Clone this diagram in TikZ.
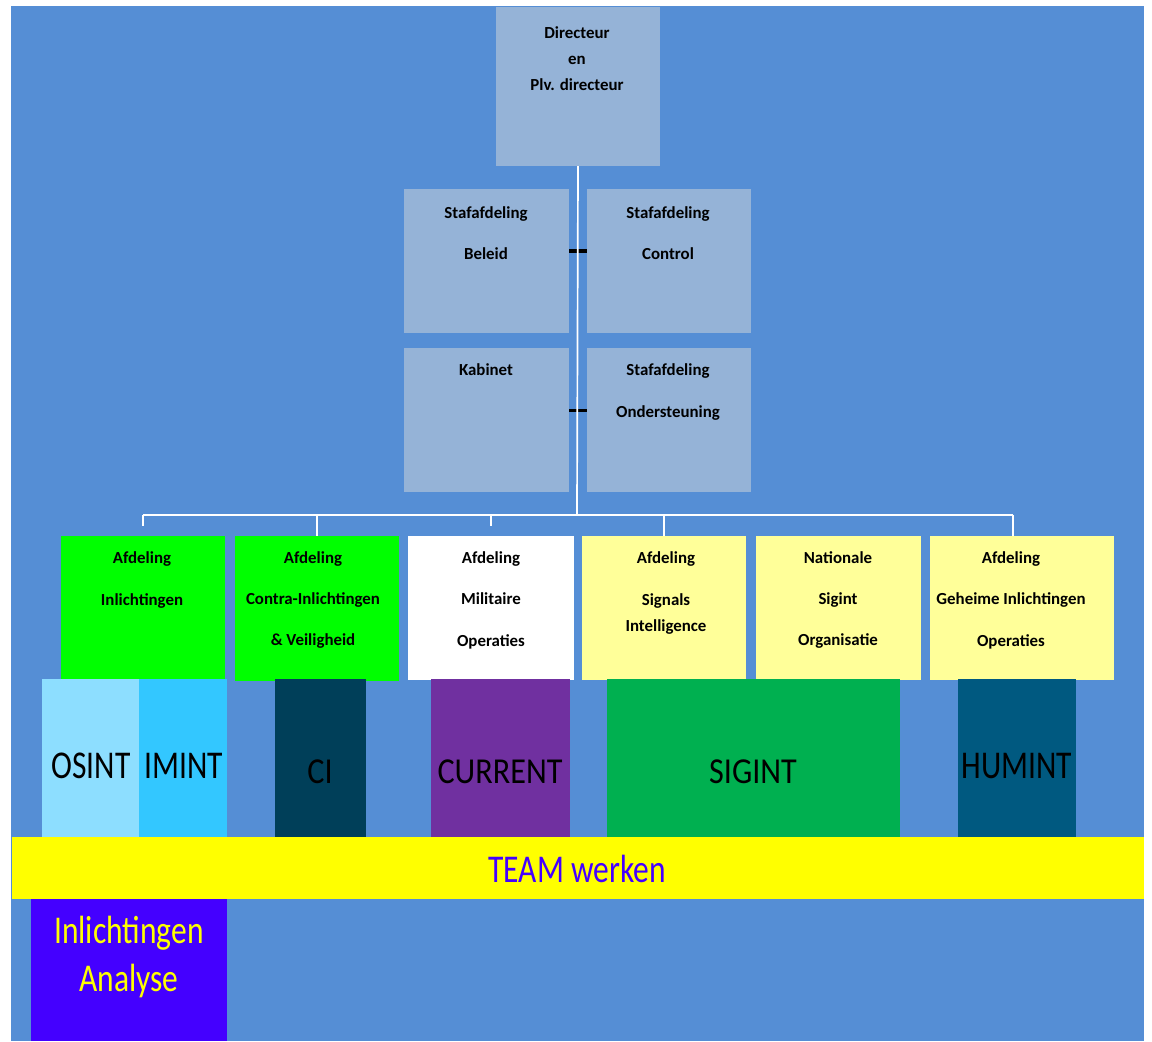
\documentclass[tikz,border=0pt]{standalone}
\usepackage{fontspec}
\setmainfont{Carlito}
\usetikzlibrary{fit}

\definecolor{cachter}{RGB}{85,142,213}
\definecolor{cstaf}{RGB}{149,179,215}
\definecolor{cgroen}{RGB}{0,255,0}
\definecolor{cgeel}{RGB}{255,255,153}
\definecolor{cosint}{RGB}{141,222,255}
\definecolor{cimint}{RGB}{51,199,255}
\definecolor{cci}{RGB}{0,63,89}
\definecolor{ccurrent}{RGB}{112,48,160}
\definecolor{csigint}{RGB}{0,176,80}
\definecolor{chumint}{RGB}{0,89,128}
\definecolor{cteam}{RGB}{255,255,0}
\definecolor{cpaars}{RGB}{68,0,255}

\begin{document}
\begin{tikzpicture}[x=0.025cm,y=-0.025cm]
    \newcommand{\smal}[1]{\scalebox{0.8}[1]{#1}}
    \newcommand{\smaller}[1]{\scalebox{0.88}[1]{#1}}
    \newcommand{\blok}[6]{\node[box,fill=#6,fit={(#2,#3) (#4,#5)}] (#1) {};}
    \tikzstyle{box}=[rectangle,inner sep=0,outer sep=0,draw=none]
    \tikzstyle{txt}=[align=center,inner sep=0,font=\fontsize{12}{18.5}\selectfont\bfseries]
    \tikzstyle{wide}=[txt,font=\fontsize{12}{29.5}\selectfont\bfseries]
    \tikzstyle{big}=[align=center,inner sep=0,font=\fontsize{28}{34.5}\selectfont]
    \tikzstyle{mid}=[big,font=\fontsize{26}{30}\selectfont]
    \tikzstyle{link}=[draw=white,line width=1.2pt]
    \tikzstyle{stub}=[draw=black,line width=2.4pt]

    \useasboundingbox (0,0) rectangle (1152,1041);
    \fill[cachter] (11,6) rectangle (1144,1041);

    % leiding en staf
    \blok{dir}{496}{7}{660}{166}{cstaf}
    \blok{beleid}{404}{189}{569}{333}{cstaf}
    \blok{control}{587}{189}{751}{333}{cstaf}
    \blok{kabinet}{404}{348}{569}{492}{cstaf}
    \blok{onder}{587}{348}{751}{492}{cstaf}

    % afdelingen
    \blok{inl}{61}{536}{225}{680}{cgroen}
    \blok{civ}{235}{536}{399}{681}{cgroen}
    \blok{mil}{408}{536}{574}{680}{white}
    \blok{sig}{582}{536}{746}{680}{cgeel}
    \blok{nso}{756}{536}{921}{680}{cgeel}
    \blok{gio}{930}{536}{1114}{680}{cgeel}

    % disciplines
    \blok{osint}{42}{679}{139}{837}{cosint}
    \blok{imint}{139}{679}{227}{837}{cimint}
    \blok{ci}{275}{679}{366}{837}{cci}
    \blok{current}{431}{679}{570}{837}{ccurrent}
    \blok{sigint}{607}{679}{900}{837}{csigint}
    \blok{humint}{958}{679}{1076}{837}{chumint}
    \blok{team}{12}{837}{1144}{899}{cteam}
    \blok{analyse}{31}{899}{227}{1041}{cpaars}

    \node[txt] (dir-t) at (577,59) {Directeur\\en\\Plv. directeur};
    \node[wide] (beleid-t) at (486,233) {Stafafdeling\\Beleid};
    \node[wide] (control-t) at (668,233) {Stafafdeling\\Control};
    \node[txt] (kabinet-t) at (486,370) {Kabinet};
    \node[wide] (onder-t) at (668,392) {Stafafdeling\\Ondersteuning};

    \node[wide] (inl-t) at (142,580) {Afdeling\\Inlichtingen};
    \node[wide] (civ-t) at (313,600) {Afdeling\\Contra-Inlichtingen\\\& Veiligheid};
    \node[wide] (mil-t) at (491,600) {Afdeling\\Militaire\\Operaties};
    \node[txt] (sig-t) at (666,593) {Afdeling\\[11pt]Signals\\Intelligence};
    \node[wide] (nso-t) at (838,600) {Nationale\\Sigint\\Organisatie};
    \node[wide] (gio-t) at (1011,600) {Afdeling\\Geheime Inlichtingen\\Operaties};

    \node[big] (osint-t) at (91,766) {\smal{OSINT}};
    \node[big] (imint-t) at (184,766) {\smal{IMINT}};
    \node[mid] (ci-t) at (320,772) {\smaller{CI}};
    \node[mid] (current-t) at (500,772) {\smaller{CURRENT}};
    \node[mid] (sigint-t) at (753,772) {\smaller{SIGINT}};
    \node[big] (humint-t) at (1017,766) {\smal{HUMINT}};
    \node[big,text=cpaars] (team-t) at (577,869) {\smal{TEAM werken}};
    \node[big,text=cteam] (analyse-t) at (129,957) {\smal{Inlichtingen}\\\smal{Analyse}};

    % lijnen
    \coordinate (bus) at (577,515);
    \coordinate (bus-r) at (1013,515);
    \draw[stub] ([yshift=0.25cm]beleid.east) -- ([yshift=0.25cm]control.west);
    \draw[stub] ([yshift=0.23cm]kabinet.east) -- ([yshift=0.23cm]onder.west);
    \draw[link] (dir.south) -- (bus);
    \draw[link] (inl.north |- bus) -- (bus-r);
    \draw[link] (inl.north |- bus) -- ++(0,11);
    \draw[link] (civ.north |- bus) -- (civ.north);
    \draw[link] (mil.north |- bus) -- ++(0,11);
    \draw[link] (sig.north |- bus) -- (sig.north);
    \draw[link] (bus-r) -- (bus-r |- gio.north);
\end{tikzpicture}
\end{document}
